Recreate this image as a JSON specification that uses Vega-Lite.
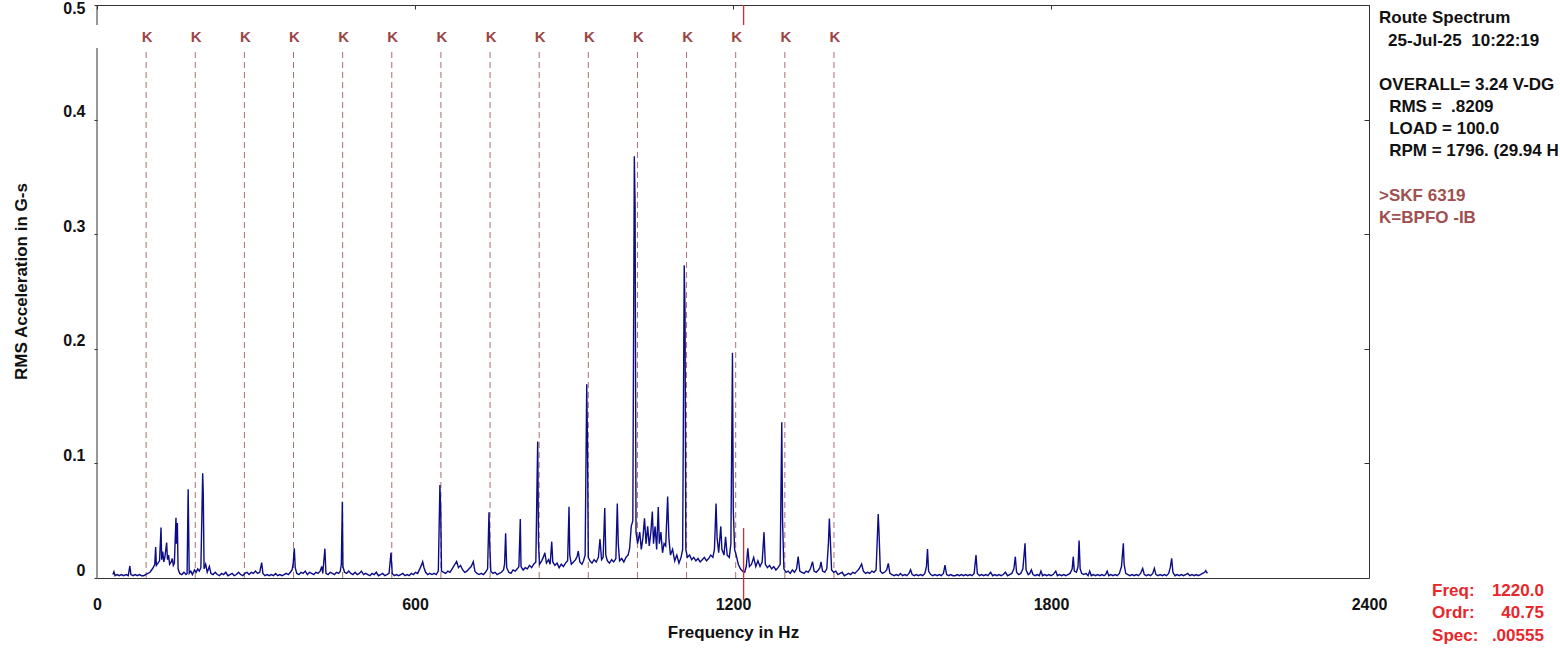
{
  "$schema": "https://vega.github.io/schema/vega-lite/v6.json",
  "width": 1272,
  "height": 573,
  "autosize": "none",
  "padding": {"left": 97, "top": 5, "right": 191, "bottom": 73},
  "background": "white",
  "config": {"view": {"stroke": null}, "font": "Liberation Sans"},
  "datasets": {
    "spectrum": [
      {"f":30,"a":0.003},{"f":32,"a":0.0055},{"f":34,"a":0.002},{"f":38,"a":0.003},{"f":42,"a":0.002},{"f":46,"a":0.003},{"f":50,"a":0.002},{"f":55,"a":0.003},{"f":59,"a":0.002},{"f":62,"a":0.0105},{"f":64,"a":0.003},{"f":68,"a":0.002},{"f":72,"a":0.003},{"f":76,"a":0.002},{"f":80,"a":0.003},{"f":84,"a":0.002},{"f":88,"a":0.002},{"f":92,"a":0.003},{"f":96,"a":0.004},{"f":100,"a":0.005},
      {"f":103,"a":0.007},{"f":106,"a":0.009},{"f":109,"a":0.012},{"f":110.7,"a":0.027},{"f":112,"a":0.011},{"f":115,"a":0.013},{"f":118,"a":0.015},{"f":120.8,"a":0.044},{"f":122,"a":0.016},{"f":124,"a":0.023},{"f":126,"a":0.014},{"f":128,"a":0.018},{"f":131.4,"a":0.031},{"f":133,"a":0.016},{"f":135,"a":0.02},{"f":137,"a":0.012},{"f":140,"a":0.014},{"f":142,"a":0.017},{"f":144,"a":0.011},{"f":146,"a":0.013},{"f":149,"a":0.0526},{"f":150,"a":0.03},{"f":151.6,"a":0.048},{"f":153,"a":0.008},{"f":156,"a":0.004},{"f":160,"a":0.003},{"f":164,"a":0.005},{"f":168,"a":0.003},{"f":170,"a":0.004},{"f":172,"a":0.0774},{"f":174,"a":0.004},{"f":177,"a":0.006},{"f":180,"a":0.003},{"f":184,"a":0.007},{"f":187,"a":0.005},{"f":190,"a":0.008},{"f":193,"a":0.006},{"f":196,"a":0.009},{"f":199.4,"a":0.0913},{"f":200.5,"a":0.074},{"f":202,"a":0.008},{"f":205,"a":0.012},{"f":208,"a":0.005},{"f":212,"a":0.01},{"f":215,"a":0.004},{"f":219,"a":0.003},{"f":223,"a":0.005},{"f":227,"a":0.003},{"f":231,"a":0.002},{"f":235,"a":0.004},{"f":239,"a":0.003},{"f":243,"a":0.005},{"f":247,"a":0.002},{"f":251,"a":0.003},{"f":255,"a":0.004},{"f":259,"a":0.002},{"f":263,"a":0.003},{"f":267,"a":0.005},{"f":271,"a":0.003},{"f":275,"a":0.002},{"f":279,"a":0.004},{"f":283,"a":0.005},{"f":287,"a":0.003},{"f":291,"a":0.005},{"f":295,"a":0.004},{"f":299,"a":0.006},{"f":303,"a":0.004},{"f":307,"a":0.005},{"f":310.7,"a":0.0134},{"f":313,"a":0.004},{"f":317,"a":0.002},{"f":321,"a":0.003},{"f":325,"a":0.002},{"f":329,"a":0.003},{"f":333,"a":0.002},{"f":337,"a":0.004},{"f":341,"a":0.002},{"f":345,"a":0.003},{"f":349,"a":0.002},{"f":353,"a":0.003},{"f":357,"a":0.004},{"f":361,"a":0.003},{"f":365,"a":0.005},{"f":368,"a":0.007},{"f":370,"a":0.012},{"f":372.3,"a":0.026},{"f":374,"a":0.009},{"f":377,"a":0.004},{"f":381,"a":0.003},{"f":385,"a":0.005},{"f":389,"a":0.004},{"f":393,"a":0.006},{"f":397,"a":0.003},{"f":401,"a":0.005},{"f":405,"a":0.004},{"f":409,"a":0.003},{"f":413,"a":0.005},{"f":417,"a":0.004},{"f":421,"a":0.006},{"f":424,"a":0.01},{"f":426,"a":0.004},{"f":430,"a":0.0256},{"f":432,"a":0.004},{"f":436,"a":0.003},{"f":440,"a":0.005},{"f":444,"a":0.004},{"f":448,"a":0.003},{"f":452,"a":0.005},{"f":456,"a":0.004},{"f":459,"a":0.006},{"f":461,"a":0.012},{"f":462.9,"a":0.0666},{"f":464,"a":0.01},{"f":467,"a":0.005},{"f":471,"a":0.004},{"f":475,"a":0.006},{"f":479,"a":0.004},{"f":483,"a":0.003},{"f":487,"a":0.005},{"f":491,"a":0.003},{"f":495,"a":0.004},{"f":499,"a":0.006},{"f":503,"a":0.003},{"f":507,"a":0.004},{"f":511,"a":0.003},{"f":515,"a":0.002},{"f":519,"a":0.004},{"f":523,"a":0.003},{"f":527,"a":0.005},{"f":531,"a":0.002},{"f":535,"a":0.003},{"f":539,"a":0.004},{"f":543,"a":0.002},{"f":547,"a":0.003},{"f":551,"a":0.004},{"f":554.7,"a":0.022},{"f":557,"a":0.004},{"f":561,"a":0.002},{"f":565,"a":0.003},{"f":569,"a":0.002},{"f":573,"a":0.003},{"f":577,"a":0.004},{"f":581,"a":0.002},{"f":585,"a":0.003},{"f":589,"a":0.002},{"f":593,"a":0.004},{"f":597,"a":0.003},{"f":601,"a":0.005},{"f":605,"a":0.004},{"f":609,"a":0.008},{"f":612,"a":0.011},{"f":614.5,"a":0.0142},{"f":617,"a":0.009},{"f":620,"a":0.005},{"f":624,"a":0.003},{"f":628,"a":0.004},{"f":632,"a":0.003},{"f":636,"a":0.004},{"f":640,"a":0.003},{"f":644,"a":0.006},{"f":647,"a":0.0811},{"f":648.5,"a":0.06},{"f":650,"a":0.006},{"f":654,"a":0.005},{"f":658,"a":0.004},{"f":662,"a":0.006},{"f":666,"a":0.005},{"f":670,"a":0.008},{"f":674,"a":0.011},{"f":678.6,"a":0.0145},{"f":682,"a":0.009},{"f":686,"a":0.011},{"f":690,"a":0.007},{"f":694,"a":0.005},{"f":698,"a":0.006},{"f":702,"a":0.008},{"f":706,"a":0.01},{"f":710,"a":0.0142},{"f":713,"a":0.006},{"f":717,"a":0.004},{"f":721,"a":0.003},{"f":725,"a":0.004},{"f":729,"a":0.003},{"f":733,"a":0.005},{"f":737,"a":0.008},{"f":739.6,"a":0.0573},{"f":741,"a":0.03},{"f":743,"a":0.006},{"f":747,"a":0.004},{"f":751,"a":0.005},{"f":755,"a":0.003},{"f":759,"a":0.004},{"f":763,"a":0.005},{"f":767,"a":0.007},{"f":769,"a":0.012},{"f":771,"a":0.039},{"f":773,"a":0.009},{"f":777,"a":0.005},{"f":781,"a":0.004},{"f":785,"a":0.007},{"f":789,"a":0.006},{"f":793,"a":0.008},{"f":796,"a":0.01},{"f":798.7,"a":0.0515},{"f":800,"a":0.01},{"f":804,"a":0.007},{"f":808,"a":0.009},{"f":812,"a":0.008},{"f":816,"a":0.011},{"f":820,"a":0.009},{"f":824,"a":0.012},{"f":828,"a":0.014},{"f":831.5,"a":0.119},{"f":833,"a":0.03},{"f":835,"a":0.012},{"f":839,"a":0.015},{"f":842,"a":0.018},{"f":845,"a":0.022},{"f":848,"a":0.013},{"f":852,"a":0.016},{"f":855,"a":0.012},{"f":858,"a":0.0317},{"f":860,"a":0.014},{"f":864,"a":0.011},{"f":868,"a":0.013},{"f":872,"a":0.009},{"f":876,"a":0.012},{"f":880,"a":0.01},{"f":884,"a":0.013},{"f":888,"a":0.015},{"f":890.6,"a":0.0622},{"f":892,"a":0.02},{"f":895,"a":0.012},{"f":899,"a":0.014},{"f":903,"a":0.016},{"f":906,"a":0.019},{"f":908,"a":0.0235},{"f":911,"a":0.014},{"f":915,"a":0.012},{"f":918,"a":0.015},{"f":921,"a":0.02},{"f":924,"a":0.169},{"f":925.5,"a":0.116},{"f":927,"a":0.018},{"f":930,"a":0.015},{"f":934,"a":0.013},{"f":938,"a":0.016},{"f":942,"a":0.014},{"f":946,"a":0.018},{"f":949,"a":0.034},{"f":952,"a":0.016},{"f":955,"a":0.018},{"f":958,"a":0.061},{"f":960,"a":0.02},{"f":963,"a":0.015},{"f":967,"a":0.013},{"f":971,"a":0.016},{"f":975,"a":0.014},{"f":979,"a":0.017},{"f":981.7,"a":0.065},{"f":983.5,"a":0.03},{"f":986,"a":0.015},{"f":990,"a":0.017},{"f":994,"a":0.014},{"f":998,"a":0.018},{"f":1002,"a":0.02},{"f":1005,"a":0.026},{"f":1008,"a":0.045},{"f":1011,"a":0.05},{"f":1013.8,"a":0.368},{"f":1015.3,"a":0.324},{"f":1017,"a":0.04},{"f":1020,"a":0.03},{"f":1024,"a":0.04},{"f":1027,"a":0.025},{"f":1030,"a":0.035},{"f":1033,"a":0.052},{"f":1036,"a":0.03},{"f":1039,"a":0.045},{"f":1042,"a":0.028},{"f":1045,"a":0.04},{"f":1047.8,"a":0.058},{"f":1050,"a":0.03},{"f":1053,"a":0.045},{"f":1056,"a":0.025},{"f":1059,"a":0.062},{"f":1061,"a":0.03},{"f":1064,"a":0.04},{"f":1067,"a":0.022},{"f":1070,"a":0.03},{"f":1073,"a":0.028},{"f":1076.7,"a":0.071},{"f":1079,"a":0.035},{"f":1082,"a":0.02},{"f":1086,"a":0.025},{"f":1090,"a":0.015},{"f":1094,"a":0.02},{"f":1098,"a":0.013},{"f":1102,"a":0.018},{"f":1105,"a":0.025},{"f":1108,"a":0.273},{"f":1109.5,"a":0.231},{"f":1111,"a":0.025},{"f":1114,"a":0.018},{"f":1118,"a":0.02},{"f":1122,"a":0.016},{"f":1126,"a":0.018},{"f":1130,"a":0.015},{"f":1134,"a":0.017},{"f":1138,"a":0.014},{"f":1142,"a":0.016},{"f":1146,"a":0.018},{"f":1150,"a":0.015},{"f":1154,"a":0.017},{"f":1158,"a":0.02},{"f":1162,"a":0.018},{"f":1165,"a":0.025},{"f":1168,"a":0.065},{"f":1170,"a":0.035},{"f":1173,"a":0.022},{"f":1177,"a":0.045},{"f":1179,"a":0.025},{"f":1183,"a":0.02},{"f":1186,"a":0.036},{"f":1189,"a":0.02},{"f":1193,"a":0.018},{"f":1196,"a":0.03},{"f":1199,"a":0.1966},{"f":1200.5,"a":0.0605},{"f":1203,"a":0.025},{"f":1206,"a":0.02},{"f":1210,"a":0.012},{"f":1214,"a":0.008},{"f":1218,"a":0.006},{"f":1222,"a":0.005},{"f":1225,"a":0.01},{"f":1228,"a":0.026},{"f":1231,"a":0.01},{"f":1235,"a":0.012},{"f":1239,"a":0.018},{"f":1243,"a":0.01},{"f":1247,"a":0.015},{"f":1251,"a":0.01},{"f":1255,"a":0.014},{"f":1258.5,"a":0.04},{"f":1261,"a":0.012},{"f":1265,"a":0.009},{"f":1269,"a":0.011},{"f":1273,"a":0.008},{"f":1277,"a":0.01},{"f":1281,"a":0.007},{"f":1285,"a":0.009},{"f":1289,"a":0.012},{"f":1292,"a":0.136},{"f":1293.5,"a":0.05},{"f":1296,"a":0.008},{"f":1300,"a":0.005},{"f":1304,"a":0.006},{"f":1308,"a":0.004},{"f":1312,"a":0.007},{"f":1316,"a":0.005},{"f":1320,"a":0.008},{"f":1323,"a":0.0186},{"f":1326,"a":0.006},{"f":1330,"a":0.005},{"f":1334,"a":0.004},{"f":1338,"a":0.006},{"f":1342,"a":0.005},{"f":1346,"a":0.008},{"f":1350,"a":0.0142},{"f":1353,"a":0.006},{"f":1357,"a":0.005},{"f":1361,"a":0.007},{"f":1364,"a":0.009},{"f":1366,"a":0.014},{"f":1369,"a":0.006},{"f":1373,"a":0.005},{"f":1377,"a":0.008},{"f":1380,"a":0.03},{"f":1381.8,"a":0.052},{"f":1383.5,"a":0.035},{"f":1386,"a":0.007},{"f":1390,"a":0.005},{"f":1394,"a":0.006},{"f":1398,"a":0.003},{"f":1402,"a":0.004},{"f":1406,"a":0.005},{"f":1410,"a":0.002},{"f":1414,"a":0.003},{"f":1418,"a":0.004},{"f":1422,"a":0.003},{"f":1426,"a":0.005},{"f":1430,"a":0.004},{"f":1434,"a":0.006},{"f":1438,"a":0.008},{"f":1442.7,"a":0.0122},{"f":1446,"a":0.006},{"f":1450,"a":0.004},{"f":1454,"a":0.005},{"f":1458,"a":0.004},{"f":1462,"a":0.006},{"f":1466,"a":0.005},{"f":1470,"a":0.007},{"f":1474,"a":0.0558},{"f":1475.5,"a":0.04},{"f":1478,"a":0.006},{"f":1482,"a":0.004},{"f":1486,"a":0.005},{"f":1490,"a":0.007},{"f":1493,"a":0.0128},{"f":1496,"a":0.004},{"f":1500,"a":0.003},{"f":1504,"a":0.002},{"f":1508,"a":0.003},{"f":1512,"a":0.002},{"f":1516,"a":0.004},{"f":1520,"a":0.002},{"f":1524,"a":0.003},{"f":1528,"a":0.002},{"f":1532,"a":0.004},{"f":1535,"a":0.0072},{"f":1538,"a":0.003},{"f":1542,"a":0.002},{"f":1546,"a":0.003},{"f":1550,"a":0.002},{"f":1554,"a":0.003},{"f":1558,"a":0.002},{"f":1562,"a":0.004},{"f":1565,"a":0.01},{"f":1567,"a":0.0253},{"f":1569,"a":0.006},{"f":1573,"a":0.003},{"f":1577,"a":0.002},{"f":1581,"a":0.003},{"f":1585,"a":0.002},{"f":1589,"a":0.003},{"f":1593,"a":0.002},{"f":1597,"a":0.004},{"f":1600,"a":0.0113},{"f":1603,"a":0.003},{"f":1607,"a":0.002},{"f":1611,"a":0.003},{"f":1615,"a":0.002},{"f":1619,"a":0.002},{"f":1623,"a":0.003},{"f":1627,"a":0.002},{"f":1631,"a":0.003},{"f":1635,"a":0.002},{"f":1639,"a":0.003},{"f":1643,"a":0.002},{"f":1647,"a":0.003},{"f":1651,"a":0.002},{"f":1655,"a":0.004},{"f":1658.5,"a":0.02},{"f":1661,"a":0.004},{"f":1665,"a":0.002},{"f":1669,"a":0.003},{"f":1673,"a":0.002},{"f":1677,"a":0.003},{"f":1681,"a":0.002},{"f":1686,"a":0.005},{"f":1690,"a":0.002},{"f":1694,"a":0.003},{"f":1698,"a":0.002},{"f":1702,"a":0.003},{"f":1706,"a":0.002},{"f":1710,"a":0.003},{"f":1714,"a":0.005},{"f":1718,"a":0.002},{"f":1722,"a":0.003},{"f":1726,"a":0.004},{"f":1730,"a":0.008},{"f":1732.7,"a":0.0186},{"f":1735,"a":0.005},{"f":1739,"a":0.003},{"f":1743,"a":0.004},{"f":1747,"a":0.008},{"f":1751,"a":0.0303},{"f":1753,"a":0.007},{"f":1757,"a":0.003},{"f":1760,"a":0.004},{"f":1763,"a":0.007},{"f":1766,"a":0.003},{"f":1770,"a":0.002},{"f":1774,"a":0.003},{"f":1778,"a":0.002},{"f":1781,"a":0.006},{"f":1784,"a":0.002},{"f":1788,"a":0.003},{"f":1792,"a":0.002},{"f":1796,"a":0.003},{"f":1800,"a":0.002},{"f":1804,"a":0.003},{"f":1809,"a":0.006},{"f":1812,"a":0.002},{"f":1816,"a":0.003},{"f":1820,"a":0.002},{"f":1824,"a":0.003},{"f":1828,"a":0.002},{"f":1832,"a":0.003},{"f":1836,"a":0.004},{"f":1840,"a":0.008},{"f":1842,"a":0.0186},{"f":1844,"a":0.006},{"f":1848,"a":0.005},{"f":1851,"a":0.01},{"f":1853,"a":0.0326},{"f":1855,"a":0.008},{"f":1858,"a":0.004},{"f":1862,"a":0.003},{"f":1866,"a":0.004},{"f":1870,"a":0.002},{"f":1873,"a":0.006},{"f":1876,"a":0.002},{"f":1880,"a":0.003},{"f":1884,"a":0.002},{"f":1888,"a":0.003},{"f":1892,"a":0.002},{"f":1896,"a":0.003},{"f":1900,"a":0.002},{"f":1903,"a":0.003},{"f":1906,"a":0.006},{"f":1909,"a":0.002},{"f":1913,"a":0.003},{"f":1917,"a":0.002},{"f":1921,"a":0.003},{"f":1925,"a":0.002},{"f":1929,"a":0.004},{"f":1933,"a":0.01},{"f":1936.5,"a":0.0303},{"f":1938,"a":0.012},{"f":1941,"a":0.004},{"f":1945,"a":0.003},{"f":1949,"a":0.002},{"f":1953,"a":0.003},{"f":1957,"a":0.002},{"f":1961,"a":0.003},{"f":1965,"a":0.002},{"f":1969,"a":0.004},{"f":1973,"a":0.0084},{"f":1976,"a":0.003},{"f":1980,"a":0.002},{"f":1984,"a":0.003},{"f":1988,"a":0.002},{"f":1992,"a":0.004},{"f":1995,"a":0.0084},{"f":1998,"a":0.003},{"f":2002,"a":0.002},{"f":2006,"a":0.003},{"f":2010,"a":0.002},{"f":2014,"a":0.003},{"f":2018,"a":0.002},{"f":2022,"a":0.004},{"f":2025,"a":0.009},{"f":2027.7,"a":0.0172},{"f":2030,"a":0.005},{"f":2034,"a":0.002},{"f":2038,"a":0.003},{"f":2042,"a":0.002},{"f":2046,"a":0.003},{"f":2050,"a":0.002},{"f":2054,"a":0.003},{"f":2058,"a":0.004},{"f":2062,"a":0.002},{"f":2066,"a":0.003},{"f":2070,"a":0.002},{"f":2074,"a":0.003},{"f":2078,"a":0.002},{"f":2082,"a":0.003},{"f":2086,"a":0.004},{"f":2090,"a":0.005},{"f":2092,"a":0.0064},{"f":2095,"a":0.004}
    ],
    "kmarks": [
      {"n":1,"f":92.7},{"n":2,"f":185.4},{"n":3,"f":278.1},{"n":4,"f":370.8},{"n":5,"f":463.5},{"n":6,"f":556.2},{"n":7,"f":648.9},{"n":8,"f":741.6},{"n":9,"f":834.3},{"n":10,"f":927.0},{"n":11,"f":1019.7},{"n":12,"f":1112.4},{"n":13,"f":1205.1},{"n":14,"f":1297.8},{"n":15,"f":1390.5}
    ],
    "one": [{}]
  },
  "layer": [
    {
      "data": {"name": "kmarks"},
      "mark": {"type": "rule", "color": "#a8706c", "strokeWidth": 1, "strokeDash": [6, 4]},
      "encoding": {
        "x": {"field": "f", "type": "quantitative", "scale": {"domain": [0, 2400], "nice": false, "zero": false},
          "axis": {"orient": "top", "values": [0, 600, 1200, 1800, 2400], "labels": false, "title": null, "grid": false, "tickSize": -4, "tickColor": "#333", "domainColor": "#333"}},
        "y": {"datum": 0, "type": "quantitative", "scale": {"domain": [0, 0.5], "nice": false, "zero": false},
          "axis": {"orient": "right", "values": [0.1, 0.2, 0.3, 0.4, 0.5], "labels": false, "title": null, "grid": false, "tickSize": -5, "tickColor": "#333", "domainColor": "#333"}},
        "y2": {"datum": 0.4625}
      }
    },
    {
      "data": {"name": "kmarks"},
      "mark": {"type": "text", "text": "K", "color": "#9b4646", "fontSize": 15, "fontWeight": "bold", "baseline": "middle", "align": "center", "dx": 1},
      "encoding": {
        "x": {"field": "f", "type": "quantitative", "scale": {"domain": [0, 2400], "nice": false, "zero": false}, "axis": null},
        "y": {"datum": 0.472, "type": "quantitative", "scale": {"domain": [0, 0.5], "nice": false, "zero": false}, "axis": null}
      }
    },
    {
      "data": {"name": "spectrum"},
      "mark": {"type": "line", "color": "#0c0c86", "strokeWidth": 1.4},
      "encoding": {
        "x": {"field": "f", "type": "quantitative", "scale": {"domain": [0, 2400], "nice": false, "zero": false},
          "axis": {"orient": "bottom", "values": [0, 600, 1200, 1800, 2400], "format": "d", "title": "Frequency in Hz", "grid": false, "ticks": false, "domainColor": "#333", "labelFontSize": 16, "labelFontWeight": "bold", "labelColor": "#111", "labelPadding": 18, "labelFlush": false, "titleFontSize": 17, "titleFontWeight": "bold", "titleColor": "#111", "titleY": 54, "titleBaseline": "middle"}},
        "y": {"field": "a", "type": "quantitative", "scale": {"domain": [0, 0.5], "nice": false, "zero": false},
          "axis": {"orient": "left", "values": [0, 0.1, 0.2, 0.3, 0.4, 0.5], "format": "~g", "title": "RMS Acceleration in G-s", "grid": false, "domain": false, "tickSize": 3, "tickColor": "#333", "labelFontSize": 16, "labelFontWeight": "bold", "labelColor": "#111", "labelPadding": 9, "labelBaseline": "middle", "labelOffset": {"condition": {"test": "datum.value >= 0.45", "value": 3}, "value": -8}, "titleFontSize": 17, "titleFontWeight": "bold", "titleColor": "#111", "titleX": -76, "titleY": 276, "titleBaseline": "middle"}}
      }
    },
    {
      "data": {"name": "one"},
      "mark": {"type": "rule", "color": "#333", "strokeWidth": 1},
      "encoding": {
        "x": {"datum": 0, "type": "quantitative", "scale": {"domain": [0, 2400], "nice": false, "zero": false}, "axis": null},
        "y": {"datum": 0, "type": "quantitative", "scale": {"domain": [0, 0.5], "nice": false, "zero": false}, "axis": null},
        "y2": {"datum": 0.4625}
      }
    },
    {
      "data": {"name": "one"},
      "mark": {"type": "rule", "color": "#333", "strokeWidth": 1},
      "encoding": {
        "x": {"datum": 0, "type": "quantitative", "scale": {"domain": [0, 2400], "nice": false, "zero": false}, "axis": null},
        "y": {"datum": 0.4825, "type": "quantitative", "scale": {"domain": [0, 0.5], "nice": false, "zero": false}, "axis": null},
        "y2": {"datum": 0.5}
      }
    },
    {
      "data": {"name": "one"},
      "mark": {"type": "rule", "color": "#e3262a", "strokeWidth": 1.3},
      "encoding": {
        "x": {"datum": 1220, "type": "quantitative", "scale": {"domain": [0, 2400], "nice": false, "zero": false}, "axis": null},
        "y": {"datum": 0.4825, "type": "quantitative", "scale": {"domain": [0, 0.5], "nice": false, "zero": false}, "axis": null},
        "y2": {"datum": 0.5}
      }
    },
    {
      "data": {"name": "one"},
      "mark": {"type": "rule", "color": "#e3262a", "strokeWidth": 1.3},
      "encoding": {
        "x": {"datum": 1220, "type": "quantitative", "scale": {"domain": [0, 2400], "nice": false, "zero": false}, "axis": null},
        "y": {"datum": -0.0192, "type": "quantitative", "scale": {"domain": [0, 0.5], "nice": false, "zero": false}, "axis": null},
        "y2": {"datum": 0.0436}
      }
    },
    {
      "data": {"name": "one"},
      "mark": {"type": "text", "align": "left", "baseline": "alphabetic", "fontSize": 17, "fontWeight": "bold", "color": "#111"},
      "encoding": {
        "x": {"datum": 2419, "type": "quantitative", "scale": {"domain": [0, 2400], "nice": false, "zero": false}, "axis": null},
        "y": {"datum": 0.4843, "type": "quantitative", "scale": {"domain": [0, 0.5], "nice": false, "zero": false}, "axis": null},
        "text": {"value": "Route Spectrum"}
      }
    },
    {
      "data": {"name": "one"},
      "mark": {"type": "text", "align": "left", "baseline": "alphabetic", "fontSize": 17, "fontWeight": "bold", "color": "#111"},
      "encoding": {
        "x": {"datum": 2436, "type": "quantitative", "scale": {"domain": [0, 2400], "nice": false, "zero": false}, "axis": null},
        "y": {"datum": 0.4642, "type": "quantitative", "scale": {"domain": [0, 0.5], "nice": false, "zero": false}, "axis": null},
        "text": {"value": "25-Jul-25\u00a0\u00a010:22:19"}
      }
    },
    {
      "data": {"name": "one"},
      "mark": {"type": "text", "align": "left", "baseline": "alphabetic", "fontSize": 17, "fontWeight": "bold", "color": "#111"},
      "encoding": {
        "x": {"datum": 2419, "type": "quantitative", "scale": {"domain": [0, 2400], "nice": false, "zero": false}, "axis": null},
        "y": {"datum": 0.4258, "type": "quantitative", "scale": {"domain": [0, 0.5], "nice": false, "zero": false}, "axis": null},
        "text": {"value": "OVERALL= 3.24 V-DG"}
      }
    },
    {
      "data": {"name": "one"},
      "mark": {"type": "text", "align": "left", "baseline": "alphabetic", "fontSize": 17, "fontWeight": "bold", "color": "#111", "lineHeight": 22},
      "encoding": {
        "x": {"datum": 2438, "type": "quantitative", "scale": {"domain": [0, 2400], "nice": false, "zero": false}, "axis": null},
        "y": {"datum": 0.4066, "type": "quantitative", "scale": {"domain": [0, 0.5], "nice": false, "zero": false}, "axis": null},
        "text": {"value": ["RMS =\u00a0\u00a0.8209", "LOAD = 100.0", "RPM = 1796. (29.94 H"]}
      }
    },
    {
      "data": {"name": "one"},
      "mark": {"type": "text", "align": "left", "baseline": "alphabetic", "fontSize": 17, "fontWeight": "bold", "color": "#a04f4f", "lineHeight": 22},
      "encoding": {
        "x": {"datum": 2419, "type": "quantitative", "scale": {"domain": [0, 2400], "nice": false, "zero": false}, "axis": null},
        "y": {"datum": 0.329, "type": "quantitative", "scale": {"domain": [0, 0.5], "nice": false, "zero": false}, "axis": null},
        "text": {"value": [">SKF 6319", "K=BPFO -IB"]}
      }
    },
    {
      "data": {"name": "one"},
      "mark": {"type": "text", "align": "left", "baseline": "alphabetic", "fontSize": 17, "fontWeight": "bold", "color": "#e8262b", "lineHeight": 22.5},
      "encoding": {
        "x": {"datum": 2519, "type": "quantitative", "scale": {"domain": [0, 2400], "nice": false, "zero": false}, "axis": null},
        "y": {"datum": -0.0157, "type": "quantitative", "scale": {"domain": [0, 0.5], "nice": false, "zero": false}, "axis": null},
        "text": {"value": ["Freq:", "Ordr:", "Spec:"]}
      }
    },
    {
      "data": {"name": "one"},
      "mark": {"type": "text", "align": "right", "baseline": "alphabetic", "fontSize": 17, "fontWeight": "bold", "color": "#e8262b", "lineHeight": 22.5},
      "encoding": {
        "x": {"datum": 2730, "type": "quantitative", "scale": {"domain": [0, 2400], "nice": false, "zero": false}, "axis": null},
        "y": {"datum": -0.0157, "type": "quantitative", "scale": {"domain": [0, 0.5], "nice": false, "zero": false}, "axis": null},
        "text": {"value": ["1220.0", "40.75", ".00555"]}
      }
    }
  ],
  "resolve": {"axis": {"x": "independent", "y": "independent"}}
}
